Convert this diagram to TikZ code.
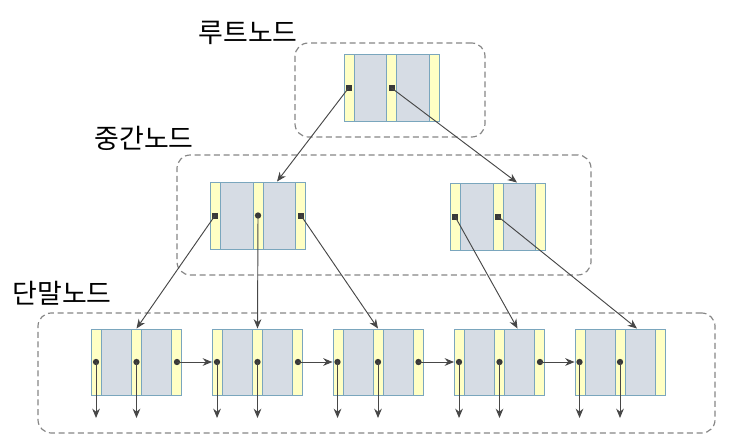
\documentclass[tikz,border=0pt]{standalone}
\usepackage{fontspec}
\usepackage{xcolor}
\usepackage{tikz}
\usetikzlibrary{arrows.meta,positioning,calc}
\newfontfamily\cjk{Noto Sans CJK KR}
\definecolor{nodegray}{HTML}{D6DCE4}
\definecolor{stripyel}{HTML}{FFFFC4}
\definecolor{nodeline}{HTML}{7AA6BD}
\definecolor{boxgray}{HTML}{858585}
\definecolor{ptrdark}{HTML}{474747}

\begin{document}
\begin{tikzpicture}[x=0.03cm,y=-0.03cm,>={Stealth[length=2.8mm,width=2.3mm]},
 bnode/.style={draw=nodeline,line width=0.8pt,fill=nodegray,inner sep=0pt,
  minimum width=2.85cm,minimum height=2.01cm,
  path picture={
   \fill[stripyel] (path picture bounding box.south west) rectangle ([xshift=0.3cm]path picture bounding box.north west);
   \fill[stripyel] ([xshift=-0.15cm]path picture bounding box.south) rectangle ([xshift=0.15cm]path picture bounding box.north);
   \fill[stripyel] ([xshift=-0.3cm]path picture bounding box.south east) rectangle (path picture bounding box.north east);
   \draw[nodeline,line width=0.8pt] ([xshift=0.3cm]path picture bounding box.south west) -- ([xshift=0.3cm]path picture bounding box.north west);
   \draw[nodeline,line width=0.8pt] ([xshift=-0.15cm]path picture bounding box.south) -- ([xshift=-0.15cm]path picture bounding box.north);
   \draw[nodeline,line width=0.8pt] ([xshift=0.15cm]path picture bounding box.south) -- ([xshift=0.15cm]path picture bounding box.north);
   \draw[nodeline,line width=0.8pt] ([xshift=-0.3cm]path picture bounding box.south east) -- ([xshift=-0.3cm]path picture bounding box.north east);
  }},
 leaf/.style={bnode,minimum width=2.7cm,minimum height=1.98cm},
 group/.style={draw=boxgray,line width=1pt,dash pattern=on 1.8mm off 1.1mm,rounded corners=0.4cm,inner sep=0pt},
 sq/.style={rectangle,fill=ptrdark!80!black,inner sep=0pt,minimum size=0.18cm},
 dot/.style={circle,fill=ptrdark!80!black,inner sep=0pt,minimum size=0.19cm},
 ptr/.style={->,draw=ptrdark,line width=0.8pt},
 lbl/.style={font=\cjk\fontsize{23}{27}\selectfont,inner sep=0pt}]
\useasboundingbox (0,0) rectangle (740,447);

% level boxes
\node[group,minimum width=5.7cm,minimum height=2.82cm] (rootbox) at (390,90) {};
\node[group,minimum width=12.42cm,minimum height=3.6cm] (midbox) at (384,215) {};
\node[group,minimum width=20.31cm,minimum height=3.6cm] (leafbox) at (376.5,373) {};
\node[lbl] (rootlbl) at (248,33) {루트노드};
\node[lbl] (midlbl) at (144,138) {중간노드};
\node[lbl] (leaflbl) at (62,293) {단말노드};

% root
\node[bnode] (r) at (391.5,88) {};
\node[sq] (ra) at ($(r.west)+(5,0)$) {};
\node[sq] (rb) at (r.center) {};

% middle
\node[bnode] (m1) at (258,215.5) {};
\node[sq] (m1a) at ($(m1.west)+(5,0)$) {};
\node[dot] (m1b) at (m1.center) {};
\node[sq] (m1c) at ($(m1.east)+(-5,0)$) {};
\node[bnode] (m2) at (498,216.5) {};
\node[sq] (m2a) at ($(m2.west)+(5,0)$) {};
\node[sq] (m2b) at (m2.center) {};

% leaves
\node[leaf] (l1) at (136.5,362) {};
\node[leaf] (l2) at (257.5,362) {};
\node[leaf] (l3) at (378,362) {};
\node[leaf] (l4) at (499.5,362) {};
\node[leaf] (l5) at (620,362) {};
\node[dot] (l1a) at ($(l1.west)+(5,0)$) {};
\node[dot] (l1b) at (l1.center) {};
\node[dot] (l1c) at ($(l1.east)+(-5,0)$) {};
\node[dot] (l2a) at ($(l2.west)+(5,0)$) {};
\node[dot] (l2b) at (l2.center) {};
\node[dot] (l2c) at ($(l2.east)+(-5,0)$) {};
\node[dot] (l3a) at ($(l3.west)+(5,0)$) {};
\node[dot] (l3b) at (l3.center) {};
\node[dot] (l3c) at ($(l3.east)+(-5,0)$) {};
\node[dot] (l4a) at ($(l4.west)+(5,0)$) {};
\node[dot] (l4b) at (l4.center) {};
\node[dot] (l4c) at ($(l4.east)+(-5,0)$) {};
\node[dot] (l5a) at ($(l5.west)+(5,0)$) {};
\node[dot] (l5b) at (l5.center) {};

% pointers
\draw[ptr] (ra.center) -- ($(m1.north)+(19,0)$);
\draw[ptr] (rb.center) -- ($(m2.north)+(19,0)$);
\draw[ptr] (m1a.center) -- (l1.north);
\draw[ptr] (m1b.center) -- (l2.north);
\draw[ptr] (m1c.center) -- (l3.north);
\draw[ptr] (m2a.center) -- ($(l4.north)+(18,0)$);
\draw[ptr] (m2b.center) -- ($(l5.north)+(17,0)$);
\draw[ptr] (l1c.center) -- (l2.west);
\draw[ptr] (l2c.center) -- (l3.west);
\draw[ptr] (l3c.center) -- (l4.west);
\draw[ptr] (l4c.center) -- (l5.west);

% records below leaves
\coordinate (l1ad) at ($(l1a)+(0,56)$);
\coordinate (l1bd) at ($(l1b)+(0,56)$);
\coordinate (l2ad) at ($(l2a)+(0,56)$);
\coordinate (l2bd) at ($(l2b)+(0,56)$);
\coordinate (l3ad) at ($(l3a)+(0,56)$);
\coordinate (l3bd) at ($(l3b)+(0,56)$);
\coordinate (l4ad) at ($(l4a)+(0,56)$);
\coordinate (l4bd) at ($(l4b)+(0,56)$);
\coordinate (l5ad) at ($(l5a)+(0,56)$);
\coordinate (l5bd) at ($(l5b)+(0,56)$);
\draw[ptr] (l1a.center) -- (l1ad);
\draw[ptr] (l1b.center) -- (l1bd);
\draw[ptr] (l2a.center) -- (l2ad);
\draw[ptr] (l2b.center) -- (l2bd);
\draw[ptr] (l3a.center) -- (l3ad);
\draw[ptr] (l3b.center) -- (l3bd);
\draw[ptr] (l4a.center) -- (l4ad);
\draw[ptr] (l4b.center) -- (l4bd);
\draw[ptr] (l5a.center) -- (l5ad);
\draw[ptr] (l5b.center) -- (l5bd);
\end{tikzpicture}
\end{document}
